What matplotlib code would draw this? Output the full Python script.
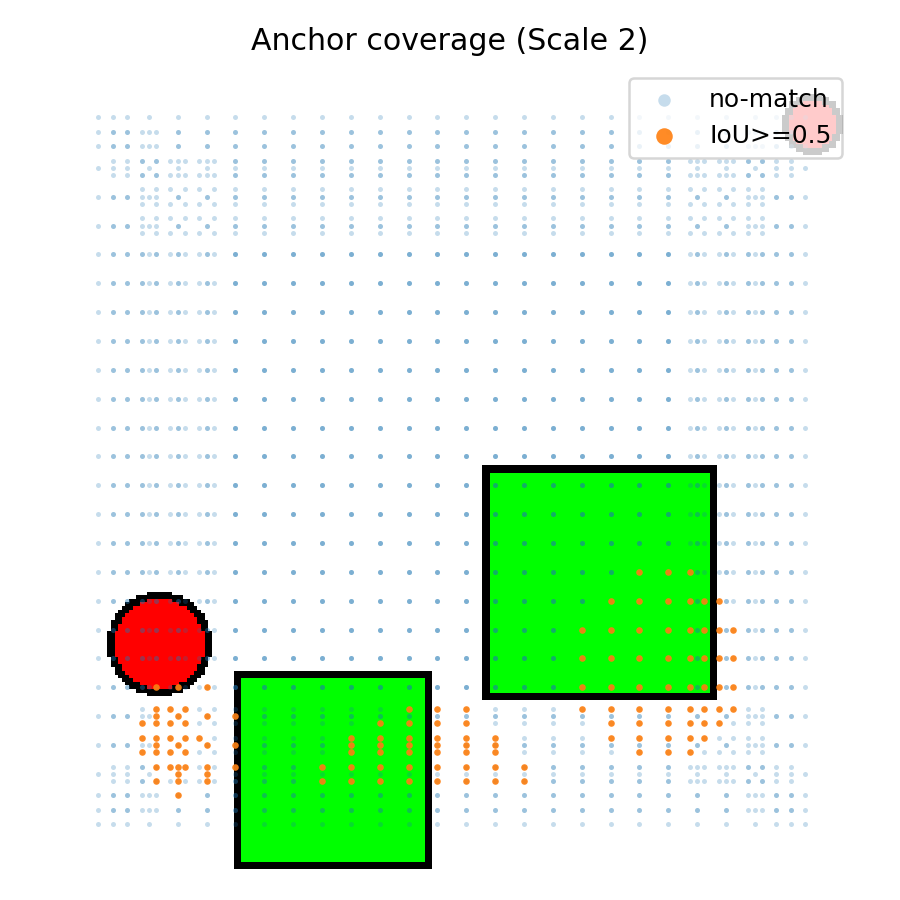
import numpy as np
import matplotlib
matplotlib.use("Agg")
import matplotlib.pyplot as plt

# ---------------- data ----------------
IMG_SIZE = 224
STRIDE = 8
ANCHOR_SIZES = [48, 64, 96]

# squares (top-left pixel, side in pixels incl. 2px black border)
square_x0 = [121, 52]
square_y0 = [111, 168]
square_side = [65, 55]

# circles (center, radius)
circle_cx = [31, 212]
circle_cy = [160, 16]
circle_r = [14, 8]

# matched anchor centers (IoU >= 0.5), grouped by row y
matched_rows = [
    (140, [164, 172, 178]),
    (148, [156, 164, 172, 178, 182, 186]),
    (156, [148, 156, 164, 172, 178, 182, 186, 190]),
    (164, [148, 156, 164, 172, 178, 182, 186, 190]),
    (172, [30, 36, 44, 148, 156, 164, 172, 178, 182, 186, 190]),
    (178, [30, 34, 38, 100, 108, 116, 148, 156, 164, 172, 178, 182, 186, 190]),
    (180, [30, 36, 44, 52]),
    (182, [26, 30, 34, 38, 92, 100, 108, 116, 156, 164, 172, 178, 182, 186]),
    (186, [26, 30, 34, 38, 42, 84, 92, 100, 108, 116, 124, 156, 164, 172, 178, 182]),
    (188, [30, 36, 44, 52, 84, 92, 100, 108, 116, 124]),
    (190, [26, 30, 34, 38, 84, 92, 100, 108, 116, 124, 164, 172, 178]),
    (194, [30, 34, 36, 38, 44, 52, 76, 84, 92, 100, 108, 116, 124, 132]),
    (196, [36, 44]),
    (198, [30, 36, 44, 76, 84, 92, 100, 108, 116, 124, 132]),
    (202, [36]),
]

# ---------------- image ----------------
img = np.full((IMG_SIZE, IMG_SIZE, 3), 255, dtype=np.uint8)
for x0, y0, s in zip(square_x0, square_y0, square_side):
    img[y0:y0 + s, x0:x0 + s] = (0, 0, 0)
    img[y0 + 2:y0 + s - 2, x0 + 2:x0 + s - 2] = (0, 255, 0)

yy, xx = np.mgrid[0:IMG_SIZE, 0:IMG_SIZE]
for cx, cy, r in zip(circle_cx, circle_cy, circle_r):
    d = np.sqrt((xx - cx) ** 2 + (yy - cy) ** 2)
    img[d <= r + 0.5] = (0, 0, 0)
    img[d <= r - 1.5] = (255, 0, 0)

# ---------------- anchors (clipped centers) ----------------
centers = np.arange(STRIDE / 2, IMG_SIZE, STRIDE)
ax_pts, ay_pts = [], []
for cy in centers:
    for cx in centers:
        for s in ANCHOR_SIZES:
            x1 = max(0, cx - s / 2); x2 = min(IMG_SIZE, cx + s / 2)
            y1 = max(0, cy - s / 2); y2 = min(IMG_SIZE, cy + s / 2)
            ax_pts.append((x1 + x2) / 2)
            ay_pts.append((y1 + y2) / 2)

mx = [x for y, xs in matched_rows for x in xs]
my = [y for y, xs in matched_rows for x in xs]

# ---------------- plot ----------------
fig = plt.figure(figsize=(5, 5), dpi=180)
ax = fig.add_subplot(111)
ax.imshow(img)
ax.scatter(ax_pts, ay_pts, s=4, c="C0", alpha=0.25, linewidths=0, label="no-match")
ax.scatter(mx, my, s=7, c="C1", alpha=0.9, linewidths=0, label="IoU>=0.5")
ax.set_title("Anchor coverage (Scale 2)")
ax.legend(loc="upper right", markerscale=2.5)
ax.axis("off")
plt.tight_layout()
fig.savefig("out.png", dpi=180)
